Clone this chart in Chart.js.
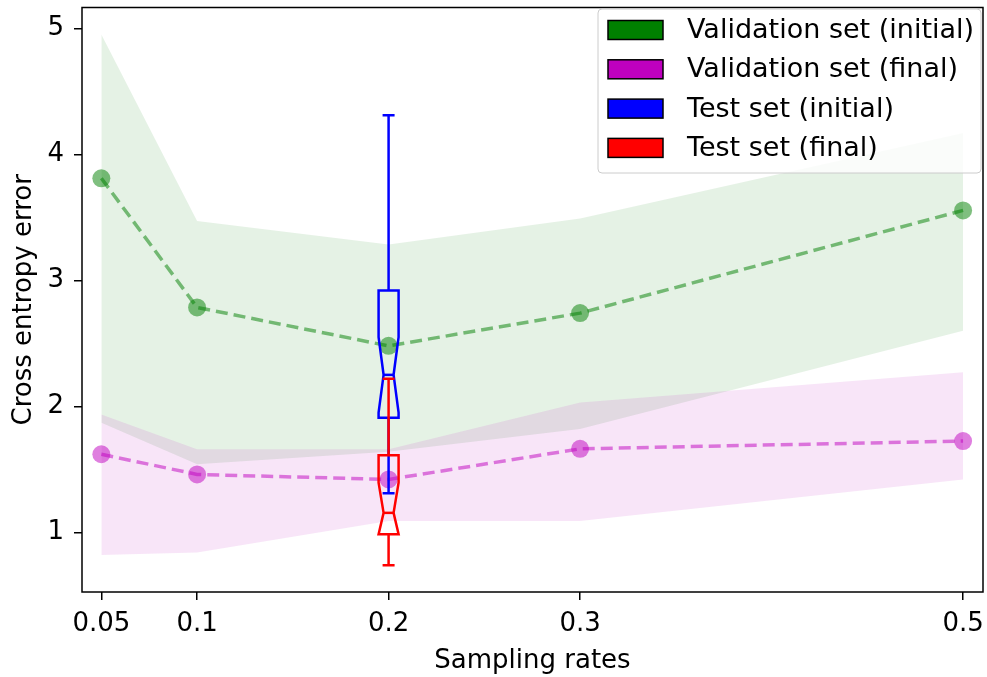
<!DOCTYPE html>
<html>
<head>
<meta charset="utf-8">
<script src="https://cdn.jsdelivr.net/npm/chart.js@4.4.0/dist/chart.umd.min.js"></script>
<style>
  body { margin: 0; background: #ffffff; }
  canvas { display: block; }
</style>
</head>
<body>
<canvas id="errorChart" width="987" height="677"></canvas>
<script>
// Sampling rates on the x axis
const samplingRates = [0.05, 0.1, 0.2, 0.3, 0.5];
const xTickValues = [0.05, 0.1, 0.2, 0.3, 0.5];
const yTickValues = [1, 2, 3, 4, 5];

// Validation set (initial): mean and spread band
const valInitialMean = [3.81, 2.785, 2.48, 2.74, 3.555];
const valInitialUpper = [4.95, 3.47, 3.285, 3.49, 4.17];
const valInitialLower = [1.87, 1.54, 1.64, 1.82, 2.60];

// Validation set (final): mean and spread band
const valFinalMean = [1.62, 1.46, 1.42, 1.663, 1.725];
const valFinalUpper = [1.935, 1.66, 1.66, 2.03, 2.27];
const valFinalLower = [0.82, 0.84, 1.09, 1.09, 1.42];

// Test set box plots at one sampling rate
// order: whisker low, q1, notch low, median, notch high, q3, whisker high
const testPosition = 0.2;
const testInitialBox = [1.31, 1.91, 1.95, 2.25, 2.55, 2.92, 4.31];
const testFinalBox = [0.74, 0.985, 0.985, 1.155, 1.395, 1.613, 2.22];

const legendLabels = [
    "Validation set (initial)",
    "Validation set (final)",
    "Test set (initial)",
    "Test set (final)",
];
const legendColors = ["#008000", "#bf00bf", "#0000ff", "#ff0000"];

const FONT = "DejaVu Sans";

function toPoints(values) {
    return samplingRates.map((x, i) => ({ x: x, y: values[i] }));
}

// Draw one notched box plot through the chart scales
function drawBox(ctx, xScale, yScale, pos, box, color) {
    const cx = xScale.getPixelForValue(pos);
    const half = 10;
    const waist = 5;
    const cap = 6;
    const [wLo, q1, nLo, med, nHi, q3, wHi] = box.map((v) => yScale.getPixelForValue(v));

    ctx.save();
    ctx.strokeStyle = color;
    ctx.lineWidth = 2.5;

    // whiskers
    ctx.beginPath();
    ctx.moveTo(cx, q1);
    ctx.lineTo(cx, wLo);
    ctx.moveTo(cx - cap, wLo);
    ctx.lineTo(cx + cap, wLo);
    ctx.moveTo(cx, q3);
    ctx.lineTo(cx, wHi);
    ctx.moveTo(cx - cap, wHi);
    ctx.lineTo(cx + cap, wHi);
    ctx.stroke();

    // notched box
    ctx.beginPath();
    ctx.moveTo(cx - half, q1);
    ctx.lineTo(cx + half, q1);
    ctx.lineTo(cx + half, nLo);
    ctx.lineTo(cx + waist, med);
    ctx.lineTo(cx + half, nHi);
    ctx.lineTo(cx + half, q3);
    ctx.lineTo(cx - half, q3);
    ctx.lineTo(cx - half, nHi);
    ctx.lineTo(cx - waist, med);
    ctx.lineTo(cx - half, nLo);
    ctx.closePath();
    ctx.stroke();

    // median
    ctx.beginPath();
    ctx.moveTo(cx - waist, med);
    ctx.lineTo(cx + waist, med);
    ctx.stroke();
    ctx.restore();
}

const boxPlugin = {
    id: "boxes",
    afterDatasetsDraw(chart) {
        const { ctx, chartArea, scales } = chart;
        drawBox(ctx, scales.x, scales.y, testPosition, testInitialBox, "#0000ff");
        drawBox(ctx, scales.x, scales.y, testPosition, testFinalBox, "#ff0000");

        // axes frame
        ctx.save();
        ctx.strokeStyle = "#000000";
        ctx.lineWidth = 1.5;
        ctx.strokeRect(chartArea.left, chartArea.top, chartArea.width, chartArea.height);
        ctx.restore();
    },
};

// Legend box in the upper right corner of the plot
const legendPlugin = {
    id: "innerLegend",
    afterDraw(chart) {
        const { ctx, chartArea } = chart;
        const right = chartArea.right - 2;
        const left = right - 383;
        const top = chartArea.top + 1.5;
        const height = 164;
        const rowGap = 39.3;

        ctx.save();
        ctx.beginPath();
        ctx.roundRect(left, top, right - left, height, 4);
        ctx.fillStyle = "rgba(255,255,255,0.8)";
        ctx.fill();
        ctx.strokeStyle = "#cccccc";
        ctx.lineWidth = 1;
        ctx.stroke();

        ctx.font = "27px '" + FONT + "'";
        ctx.textBaseline = "middle";
        ctx.textAlign = "left";
        legendLabels.forEach((label, i) => {
            const cy = top + 21 + i * rowGap;
            ctx.fillStyle = legendColors[i];
            ctx.fillRect(left + 10, cy - 9.5, 55, 19);
            ctx.strokeStyle = "#000000";
            ctx.lineWidth = 1.5;
            ctx.strokeRect(left + 10, cy - 9.5, 55, 19);
            ctx.fillStyle = "#000000";
            ctx.fillText(label, left + 89, cy + 1);
        });
        ctx.restore();
    },
};

const ctx = document.getElementById("errorChart");

new Chart(ctx, {
    type: "line",
    data: {
        datasets: [
            {
                label: legendLabels[0],
                data: toPoints(valInitialMean),
                borderColor: "rgba(0,128,0,0.5)",
                backgroundColor: "rgba(0,128,0,0.5)",
                borderWidth: 3.5,
                borderDash: [12, 6],
                pointRadius: 9,
                pointBorderWidth: 0,
                fill: false,
            },
            {
                label: legendLabels[1],
                data: toPoints(valFinalMean),
                borderColor: "rgba(191,0,191,0.5)",
                backgroundColor: "rgba(191,0,191,0.5)",
                borderWidth: 3.5,
                borderDash: [12, 6],
                pointRadius: 9,
                pointBorderWidth: 0,
                fill: false,
            },
            {
                label: "final upper",
                data: toPoints(valFinalUpper),
                borderWidth: 0,
                pointRadius: 0,
                backgroundColor: "rgba(191,0,191,0.1)",
                fill: "+1",
            },
            {
                label: "final lower",
                data: toPoints(valFinalLower),
                borderWidth: 0,
                pointRadius: 0,
                fill: false,
            },
            {
                label: "initial upper",
                data: toPoints(valInitialUpper),
                borderWidth: 0,
                pointRadius: 0,
                backgroundColor: "rgba(0,128,0,0.1)",
                fill: "+1",
            },
            {
                label: "initial lower",
                data: toPoints(valInitialLower),
                borderWidth: 0,
                pointRadius: 0,
                fill: false,
            },
        ],
    },
    options: {
        responsive: false,
        animation: false,
        layout: {
            autoPadding: false,
            padding: { top: 7.5, right: 4, left: 0, bottom: 0 },
        },
        plugins: {
            legend: { display: false },
            tooltip: { enabled: false },
            filler: { drawTime: "beforeDatasetsDraw" },
        },
        scales: {
            x: {
                type: "linear",
                min: 0.0399,
                max: 0.5104,
                afterBuildTicks: (axis) => {
                    axis.ticks = xTickValues.map((v) => ({ value: v }));
                },
                afterFit: (axis) => {
                    axis.height = 85;
                    axis.paddingLeft = 0;
                    axis.paddingRight = 0;
                },
                border: { display: false },
                grid: {
                    drawOnChartArea: false,
                    drawTicks: true,
                    tickLength: 8,
                    tickColor: "#000000",
                    lineWidth: 1.5,
                },
                ticks: {
                    color: "#000000",
                    font: { family: FONT, size: 26 },
                    padding: 9,
                    maxRotation: 0,
                    autoSkip: false,
                    callback: (value) => String(value),
                },
                title: {
                    display: true,
                    text: "Sampling rates",
                    color: "#000000",
                    font: { family: FONT, size: 26 },
                    padding: { top: 0, bottom: 0 },
                },
            },
            y: {
                type: "linear",
                min: 0.527,
                max: 5.165,
                afterBuildTicks: (axis) => {
                    axis.ticks = yTickValues.map((v) => ({ value: v }));
                },
                afterFit: (axis) => {
                    axis.width = 82;
                    axis.paddingTop = 0;
                    axis.paddingBottom = 0;
                },
                border: { display: false },
                grid: {
                    drawOnChartArea: false,
                    drawTicks: true,
                    tickLength: 8,
                    tickColor: "#000000",
                    lineWidth: 1.5,
                },
                ticks: {
                    color: "#000000",
                    font: { family: FONT, size: 26 },
                    padding: 10,
                    callback: (value) => String(value),
                },
                title: {
                    display: true,
                    text: "Cross entropy error",
                    color: "#000000",
                    font: { family: FONT, size: 26 },
                    padding: { top: 9, bottom: 0 },
                },
            },
        },
    },
    plugins: [boxPlugin, legendPlugin],
});
</script>
</body>
</html>
